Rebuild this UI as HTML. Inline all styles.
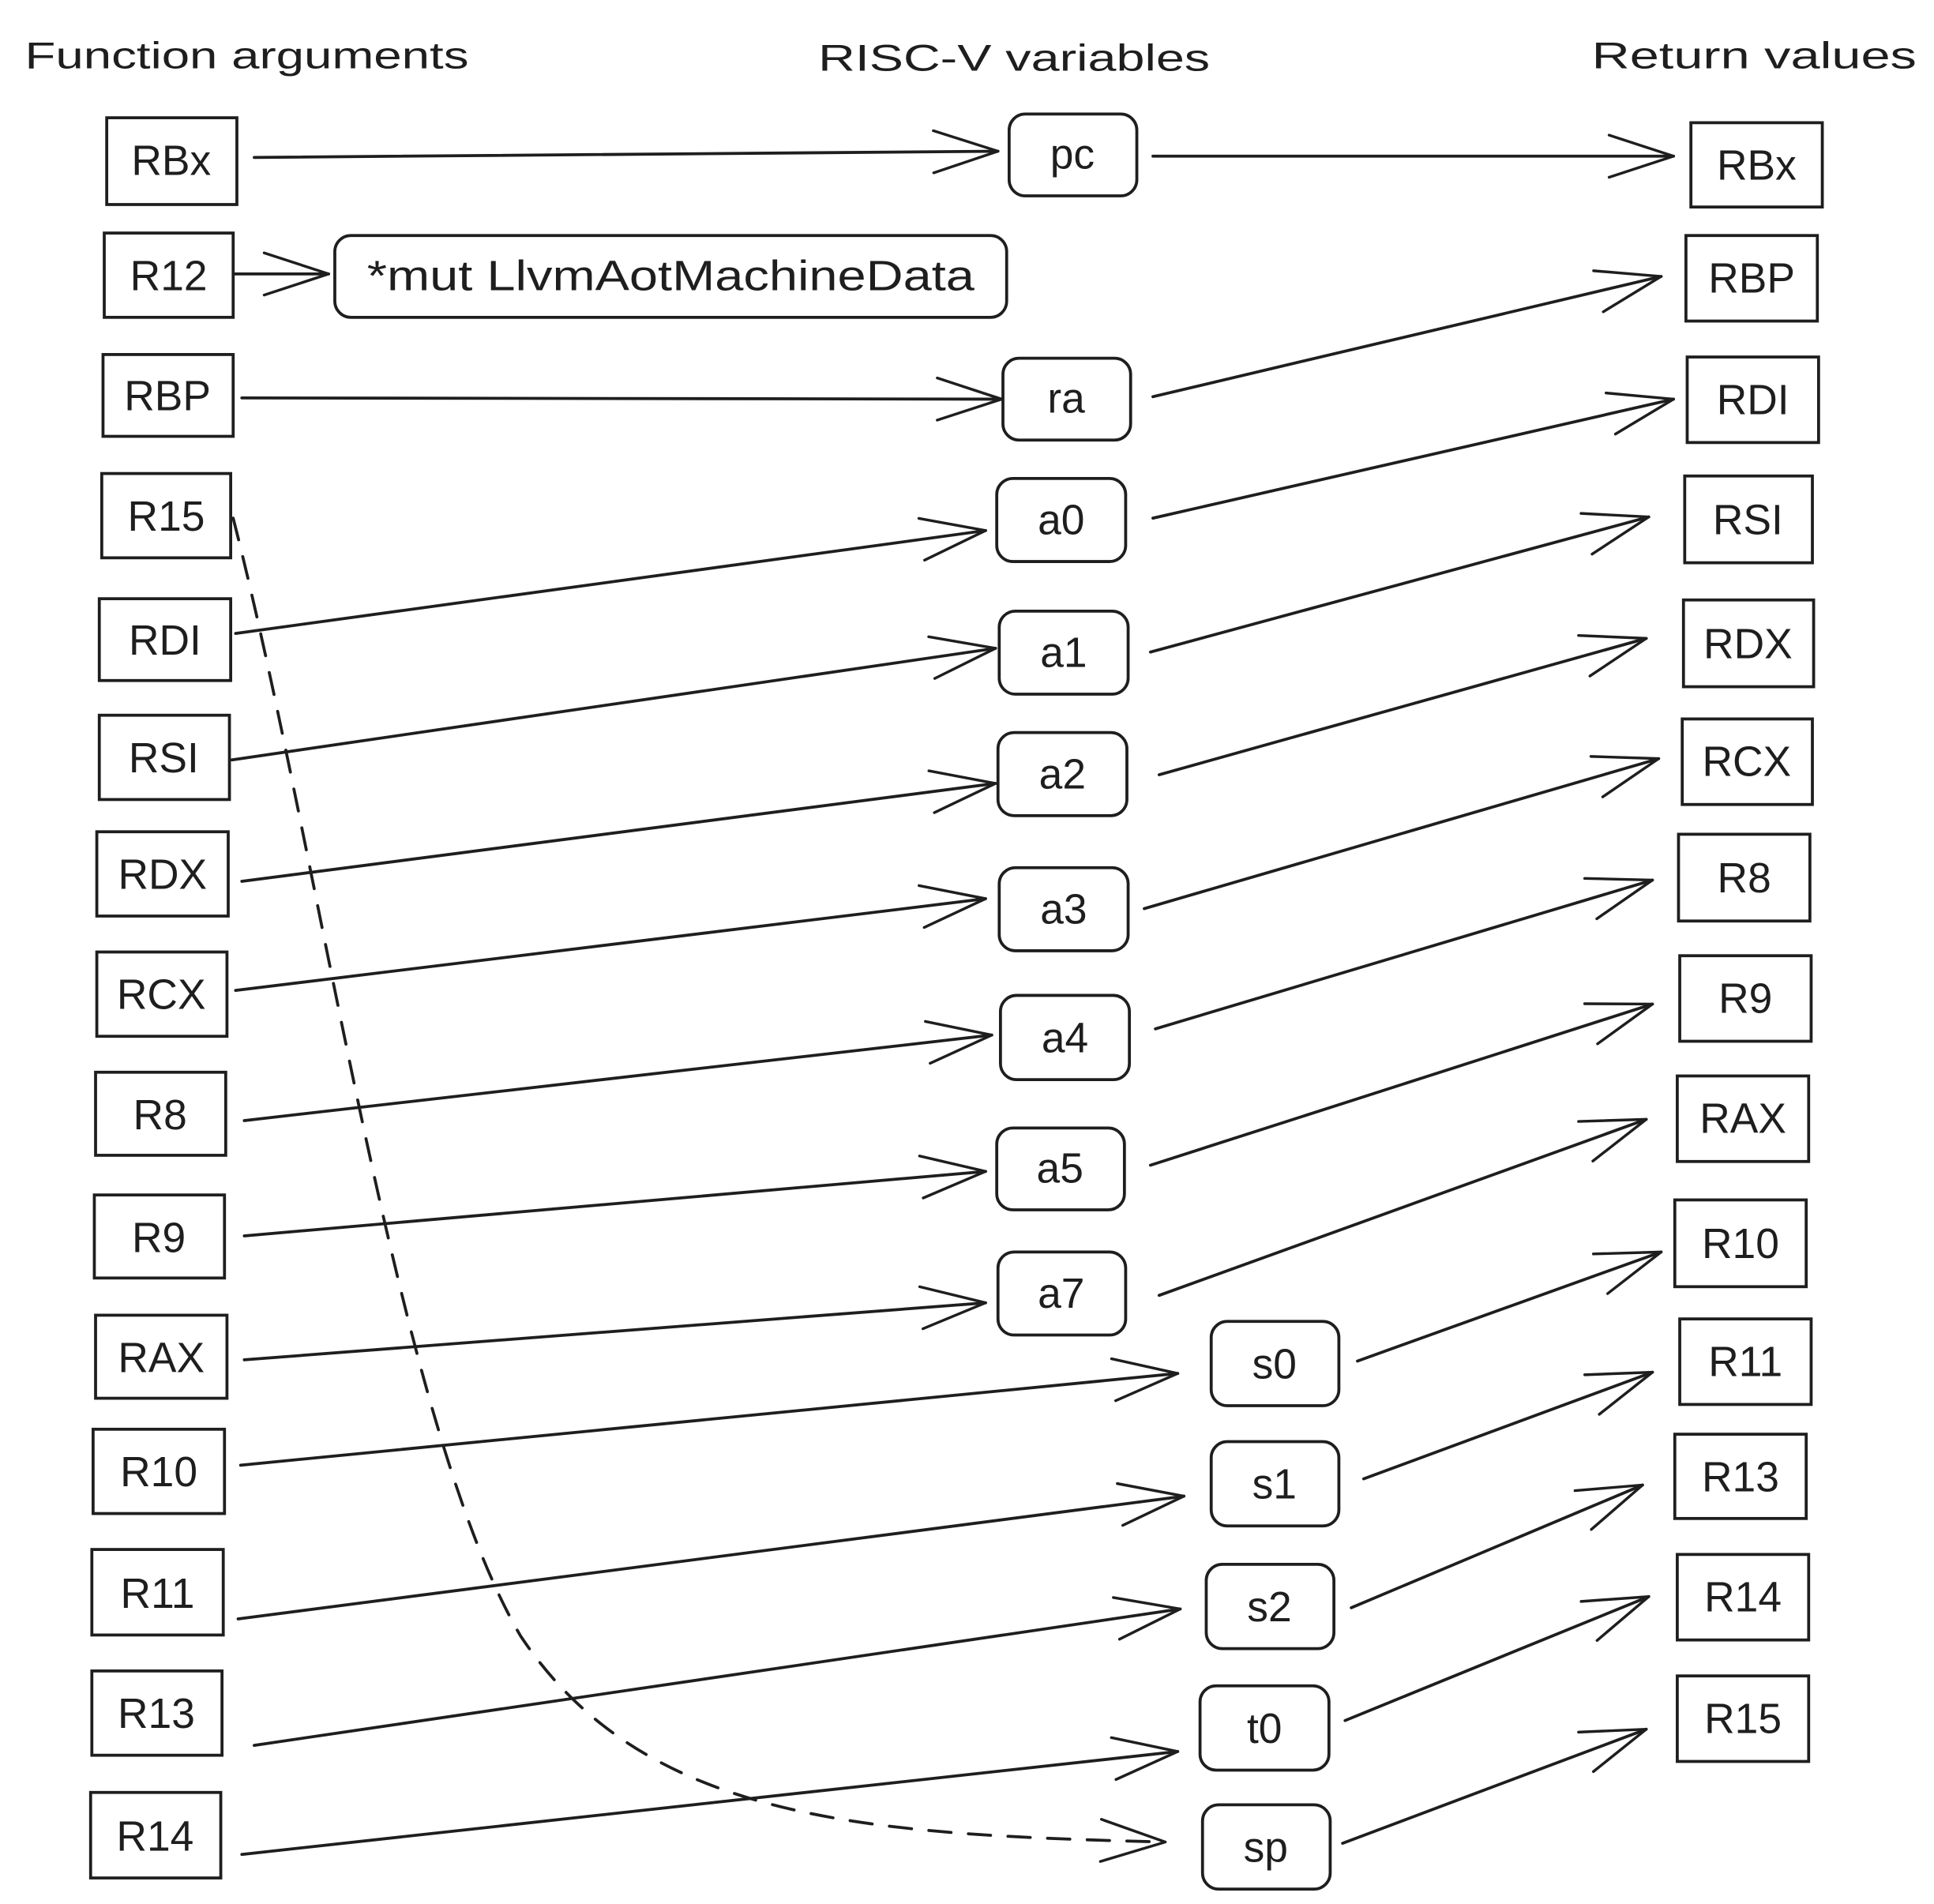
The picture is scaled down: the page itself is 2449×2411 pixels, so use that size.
<!DOCTYPE html>
<html><head><meta charset="utf-8"><style>
html,body{margin:0;padding:0;background:#fff}
svg{display:block}
text{font-family:"Liberation Sans",sans-serif;fill:#1e1e1e}
</style></head><body>
<svg width="2449" height="2411" viewBox="0 0 1560 1536" xmlns="http://www.w3.org/2000/svg">
<defs>
<marker id="ah" markerUnits="userSpaceOnUse" markerWidth="10" markerHeight="10" refX="0" refY="0" orient="auto" overflow="visible">
<path d="M-52 -17 L0 0 L-52 17" fill="none" stroke="#1e1e1e" stroke-width="2.2" stroke-linecap="round" stroke-linejoin="round"/>
</marker>
</defs>
<g font-size="30">
<text x="20" y="55" textLength="358" lengthAdjust="spacingAndGlyphs">Function arguments</text>
<text x="660" y="57" textLength="316" lengthAdjust="spacingAndGlyphs">RISC-V variables</text>
<text x="1284" y="55" textLength="262" lengthAdjust="spacingAndGlyphs">Return values</text>
</g>
<g fill="none" stroke="#1e1e1e" stroke-width="2.4">
<rect x="86" y="95" width="105" height="70"/>
<rect x="84" y="188" width="104" height="68"/>
<rect x="83" y="286" width="105" height="66"/>
<rect x="82" y="382" width="104" height="68"/>
<rect x="80" y="483" width="106" height="66"/>
<rect x="80" y="577" width="105" height="68"/>
<rect x="78" y="671" width="106" height="68"/>
<rect x="78" y="768" width="105" height="68"/>
<rect x="77" y="865" width="105" height="67"/>
<rect x="76" y="964" width="105" height="67"/>
<rect x="77" y="1061" width="106" height="67"/>
<rect x="75" y="1153" width="106" height="68"/>
<rect x="74" y="1250" width="106" height="69"/>
<rect x="74" y="1348" width="105" height="68"/>
<rect x="73" y="1446" width="105" height="69"/>
<rect x="814" y="92" width="103" height="66" rx="13"/>
<rect x="270" y="190" width="542" height="66" rx="13"/>
<rect x="809" y="289" width="103" height="66" rx="13"/>
<rect x="804" y="386" width="104" height="67" rx="13"/>
<rect x="806" y="493" width="104" height="67" rx="13"/>
<rect x="805" y="591" width="104" height="67" rx="13"/>
<rect x="806" y="700" width="104" height="67" rx="13"/>
<rect x="807" y="803" width="104" height="68" rx="13"/>
<rect x="804" y="910" width="103" height="66" rx="13"/>
<rect x="805" y="1010" width="103" height="67" rx="13"/>
<rect x="977" y="1066" width="103" height="68" rx="13"/>
<rect x="977" y="1163" width="103" height="68" rx="13"/>
<rect x="973" y="1262" width="103" height="68" rx="13"/>
<rect x="968" y="1360" width="104" height="68" rx="13"/>
<rect x="970" y="1456" width="103" height="68" rx="13"/>
<rect x="1364" y="99" width="106" height="68"/>
<rect x="1360" y="190" width="106" height="69"/>
<rect x="1361" y="288" width="106" height="69"/>
<rect x="1359" y="384" width="103" height="70"/>
<rect x="1358" y="484" width="105" height="70"/>
<rect x="1357" y="580" width="105" height="69"/>
<rect x="1354" y="673" width="106" height="70"/>
<rect x="1355" y="771" width="106" height="69"/>
<rect x="1353" y="868" width="106" height="69"/>
<rect x="1351" y="968" width="106" height="70"/>
<rect x="1355" y="1064" width="106" height="69"/>
<rect x="1351" y="1157" width="106" height="68"/>
<rect x="1353" y="1254" width="106" height="69"/>
<rect x="1353" y="1352" width="106" height="69"/>
</g>
<g font-size="34" text-anchor="middle">
<text x="138" y="141">RBx</text>
<text x="136" y="234">R12</text>
<text x="135" y="331">RBP</text>
<text x="134" y="428">R15</text>
<text x="133" y="528">RDI</text>
<text x="132" y="623">RSI</text>
<text x="131" y="717">RDX</text>
<text x="130" y="814">RCX</text>
<text x="129" y="911">R8</text>
<text x="128" y="1010">R9</text>
<text x="130" y="1107">RAX</text>
<text x="128" y="1199">R10</text>
<text x="127" y="1297">R11</text>
<text x="126" y="1394">R13</text>
<text x="125" y="1493">R14</text>
<text x="865" y="136">pc</text>
<text x="541" y="234" textLength="490" lengthAdjust="spacingAndGlyphs">*mut LlvmAotMachineData</text>
<text x="860" y="333">ra</text>
<text x="856" y="431">a0</text>
<text x="858" y="538">a1</text>
<text x="857" y="636">a2</text>
<text x="858" y="745">a3</text>
<text x="859" y="849">a4</text>
<text x="855" y="954">a5</text>
<text x="856" y="1055">a7</text>
<text x="1028" y="1112">s0</text>
<text x="1028" y="1209">s1</text>
<text x="1024" y="1308">s2</text>
<text x="1020" y="1406">t0</text>
<text x="1021" y="1502">sp</text>
<text x="1417" y="145">RBx</text>
<text x="1413" y="236">RBP</text>
<text x="1414" y="334">RDI</text>
<text x="1410" y="431">RSI</text>
<text x="1410" y="531">RDX</text>
<text x="1409" y="626">RCX</text>
<text x="1407" y="720">R8</text>
<text x="1408" y="817">R9</text>
<text x="1406" y="914">RAX</text>
<text x="1404" y="1015">R10</text>
<text x="1408" y="1110">R11</text>
<text x="1404" y="1203">R13</text>
<text x="1406" y="1300">R14</text>
<text x="1406" y="1398">R15</text>
</g>
<g fill="none" stroke="#1e1e1e" stroke-width="2.4" stroke-linecap="round" marker-end="url(#ah)">
<path d="M205 127 L805 122"/>
<path d="M188 221 L265 221"/>
<path d="M195 321 L808 322"/>
<path d="M190 511 L795 428"/>
<path d="M187 613 L803 523"/>
<path d="M195 711 L803 632"/>
<path d="M190 799 L795 725"/>
<path d="M197 904 L800 835"/>
<path d="M197 997 L795 945"/>
<path d="M197 1097 L795 1051"/>
<path d="M194 1182 L950 1108"/>
<path d="M192 1306 L955 1207"/>
<path d="M205 1408 L952 1298"/>
<path d="M195 1496 L950 1413"/>
<path d="M930 126 L1350 126"/>
<path d="M930 320 L1340 223"/>
<path d="M930 418 L1350 322"/>
<path d="M928 526 L1330 417"/>
<path d="M935 625 L1328 515"/>
<path d="M923 733 L1338 612"/>
<path d="M932 830 L1333 710"/>
<path d="M928 940 L1333 810"/>
<path d="M935 1045 L1328 903"/>
<path d="M1095 1098 L1340 1010"/>
<path d="M1100 1193 L1333 1107"/>
<path d="M1090 1297 L1325 1198"/>
<path d="M1085 1388 L1330 1288"/>
<path d="M1083 1487 L1328 1395"/>
<path d="M188 418 C 260 700, 320 1150, 420 1320 C 520 1470, 700 1480, 940 1486" stroke-dasharray="18 14"/>
</g>
</svg>
</body></html>
